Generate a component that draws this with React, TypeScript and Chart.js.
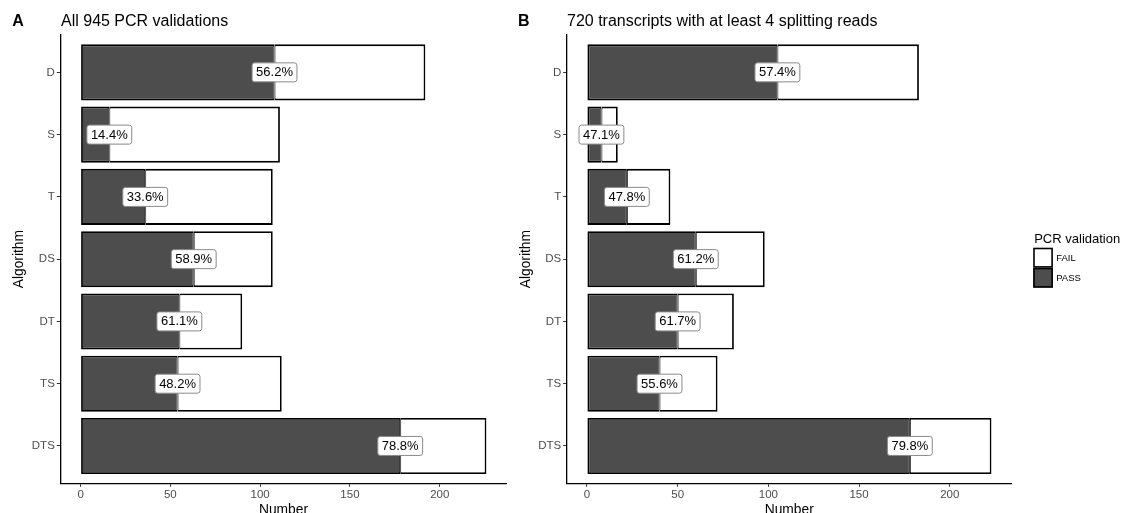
import React, { useEffect, useRef } from "react";
import { Chart, registerables } from "chart.js";

Chart.register(...registerables);

// ---- data ----
const algorithms = ["D", "S", "T", "DS", "DT", "TS", "DTS"];
const passA = [108, 16, 36, 63, 55, 54, 178];
const failA = [84, 95, 71, 44, 35, 58, 48];
const pctA = ["56.2%", "14.4%", "33.6%", "58.9%", "61.1%", "48.2%", "78.8%"];
const passB = [105, 8, 22, 60, 50, 40, 178];
const failB = [78, 9, 24, 38, 31, 32, 45];
const pctB = ["57.4%", "47.1%", "47.8%", "61.2%", "61.7%", "55.6%", "79.8%"];
const xTicks = [0, 50, 100, 150, 200];
const titleA = "All 945 PCR validations";
const titleB = "720 transcripts with at least 4 splitting reads";
const legendTitle = "PCR validation";
const legendItems = ["FAIL", "PASS"];
const xTitle = "Number";
const yTitle = "Algorithm";

const FONT = "'Liberation Sans', Arial, Helvetica, sans-serif";
const DARK = "#4d4d4d";
const H = 513;

type PanelProps = {
  pass: number[];
  fail: number[];
  pct: string[];
  letter: string;
  title: string;
  left: number;
  width: number;
  yAxisWidth: number;
  rightPad: number;
  letterX: number;
  titleX: number;
  yTitleX: number;
  legend: boolean;
};

function Panel(p: PanelProps) {
  const ref = useRef<HTMLCanvasElement | null>(null);
  useEffect(() => {
    if (!ref.current) return;
    const totals = p.pass.map((v, i) => v + p.fail[i]);
    const maxT = Math.max(...totals);
    const overlay = {
      id: "overlay",
      afterDatasetsDraw(chart: any) {
        const ctx = chart.ctx;
        const xs = chart.scales.x;
        const ys = chart.scales.y;
        ctx.save();
        ctx.font = `13px ${FONT}`;
        ctx.textAlign = "center";
        ctx.textBaseline = "middle";
        p.pass.forEach((v, i) => {
          const x = xs.getPixelForValue(v);
          const y = ys.getPixelForValue(i);
          const tw = ctx.measureText(p.pct[i]).width;
          const w = tw + 8;
          const h = 19;
          ctx.beginPath();
          ctx.roundRect(x - w / 2, y - h / 2, w, h, 2.5);
          ctx.fillStyle = "#ffffff";
          ctx.fill();
          ctx.lineWidth = 1;
          ctx.strokeStyle = "#8a8a8a";
          ctx.stroke();
          ctx.fillStyle = "#000000";
          ctx.fillText(p.pct[i], x, y + 0.5);
        });
        ctx.restore();
      },
      afterDraw(chart: any) {
        const ctx = chart.ctx;
        const ca = chart.chartArea;
        ctx.save();
        ctx.fillStyle = "#000";
        ctx.textBaseline = "alphabetic";
        ctx.textAlign = "left";
        ctx.font = `bold 16px ${FONT}`;
        ctx.fillText(p.letter, p.letterX, 26);
        ctx.font = `16px ${FONT}`;
        ctx.fillText(p.title, p.titleX, 26);
        // x title
        ctx.font = `13.8px ${FONT}`;
        ctx.textAlign = "center";
        ctx.fillText(xTitle, (ca.left + ca.right) / 2, 514);
        // y title
        ctx.save();
        ctx.translate(p.yTitleX, (ca.top + ca.bottom) / 2);
        ctx.rotate(-Math.PI / 2);
        ctx.textBaseline = "middle";
        ctx.fillText(yTitle, 0, 0);
        ctx.restore();
        if (p.legend) {
          const lx = ca.right + 21.5;
          ctx.textAlign = "left";
          ctx.textBaseline = "alphabetic";
          ctx.font = `13px ${FONT}`;
          ctx.fillText(legendTitle, lx + 1, 242.5);
          const cols = ["#ffffff", DARK];
          legendItems.forEach((name, i) => {
            const by = 247.7 + i * 20;
            ctx.fillStyle = cols[i];
            ctx.fillRect(lx, by, 19.7, 20);
            ctx.lineWidth = 1.6;
            ctx.strokeStyle = "#000";
            ctx.strokeRect(lx + 0.8, by + 0.8, 18.1, 18.4);
            ctx.fillStyle = "#000";
            ctx.font = `9.5px ${FONT}`;
            ctx.textBaseline = "middle";
            ctx.fillText(name, lx + 23, by + 10.5);
            ctx.textBaseline = "alphabetic";
          });
        }
        ctx.restore();
      },
    };
    const tickFont = { family: FONT, size: 11.5 };
    const chart = new Chart(ref.current, {
      type: "bar",
      data: {
        datasets: [
          {
            label: "PASS",
            data: p.pass.map((v, i) => ({ x: v, y: i })),
            backgroundColor: DARK,
            borderColor: "#000",
            borderWidth: { top: 1.8, bottom: 1.8, left: 1.8, right: 1 },
            borderSkipped: false,
            barPercentage: 0.9,
            categoryPercentage: 1,
          },
          {
            label: "FAIL",
            data: p.fail.map((v, i) => ({ x: v, y: i })),
            backgroundColor: "#ffffff",
            borderColor: "#000",
            borderWidth: { top: 1.8, bottom: 1.8, left: 1, right: 1.8 },
            borderSkipped: false,
            barPercentage: 0.9,
            categoryPercentage: 1,
          },
        ],
      } as any,
      options: {
        indexAxis: "y",
        animation: false,
        responsive: false,
        devicePixelRatio: 1,
        layout: { padding: { left: 0, right: p.rightPad, top: 35, bottom: 0 } },
        plugins: {
          legend: { display: false },
          tooltip: { enabled: false },
          title: { display: false },
        },
        scales: {
          x: {
            type: "linear",
            stacked: true,
            offset: false,
            min: -0.05 * maxT,
            max: 1.05 * maxT,
            afterBuildTicks: (s: any) => {
              s.ticks = xTicks.map((v) => ({ value: v }));
            },
            afterFit: (s: any) => {
              s.height = H - 483.3;
            },
            grid: { offset: false, drawOnChartArea: false, drawTicks: true, tickLength: 3.5, color: "#333333", lineWidth: 1 },
            border: { display: true, color: "#000", width: 1.3 },
            ticks: { color: DARK, font: tickFont, padding: 1, maxRotation: 0, autoSkip: false },
          },
          y: {
            type: "linear",
            stacked: true,
            reverse: true,
            offset: false,
            min: -0.6,
            max: algorithms.length - 0.4,
            afterBuildTicks: (s: any) => {
              s.ticks = algorithms.map((_, i) => ({ value: i }));
            },
            afterFit: (s: any) => {
              s.width = p.yAxisWidth;
            },
            grid: { offset: false, drawOnChartArea: false, drawTicks: true, tickLength: 3.5, color: "#333333", lineWidth: 1 },
            border: { display: true, color: "#000", width: 1.3 },
            ticks: {
              color: DARK,
              font: tickFont,
              padding: 2,
              autoSkip: false,
              callback: (v: any) => algorithms[Math.round(Number(v))],
            },
          },
        },
      } as any,
      plugins: [overlay],
    });
    return () => chart.destroy();
  }, []);
  return (
    <canvas
      ref={ref}
      width={p.width}
      height={H}
      style={{ position: "absolute", left: p.left, top: 0, width: p.width, height: H }}
    />
  );
}

export default function App() {
  return (
    <div style={{ position: "absolute", left: 0, top: 0, width: 1125, height: H, background: "#fff", overflow: "hidden" }}>
      <Panel
        pass={passA}
        fail={failA}
        pct={pctA}
        letter="A"
        title={titleA}
        left={0}
        width={510}
        yAxisWidth={60.3}
        rightPad={510 - 506.7}
        letterX={12.3}
        titleX={61}
        yTitleX={19}
        legend={false}
      />
      <Panel
        pass={passB}
        fail={failB}
        pct={pctB}
        letter="B"
        title={titleB}
        left={510}
        width={615}
        yAxisWidth={56.7}
        rightPad={615 - 501.7}
        letterX={8}
        titleX={57}
        yTitleX={15.7}
        legend={true}
      />
    </div>
  );
}
